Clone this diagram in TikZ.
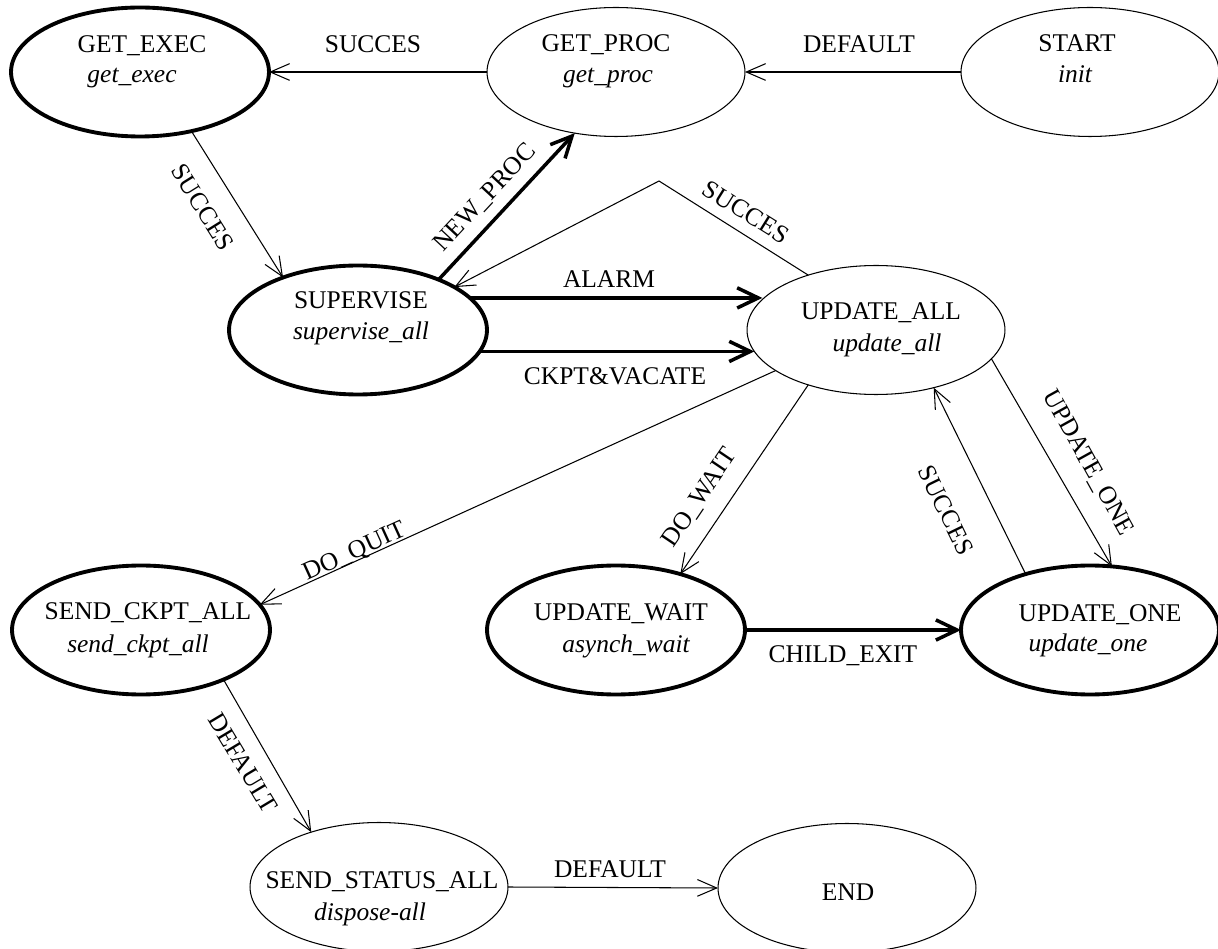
\documentclass[tikz,border=0pt]{standalone}
\usepackage{fontspec}
\setmainfont{Liberation Serif}
\usetikzlibrary{shapes.geometric,arrows.meta,calc}
\begin{document}
\begin{tikzpicture}[x=0.02cm,y=-0.02cm,
  state/.style={ellipse,draw,line width=0.6pt,minimum width=5.16cm,minimum height=2.58cm,inner sep=0pt,outer sep=0pt},
  bold state/.style={state,line width=2.2pt},
  txt/.style={inner sep=0pt,anchor=base,font=\fontsize{14.5}{17}\selectfont},
  fn/.style={inner sep=0pt,anchor=base,font=\fontsize{14.5}{17}\selectfont\itshape},
  elabel/.style={inner sep=0pt,font=\fontsize{14.5}{17}\selectfont},
  thin arrow/.style={line width=0.6pt,-{Straight Barb[length=11pt,width=9.5pt]}},
  thick arrow/.style={line width=2pt,-{Straight Barb[length=12pt,width=11.5pt]}},
]
\useasboundingbox (0,0) rectangle (1218,949);

% states
\node[bold state] (ge)  at (140,72)  {};
\node[state]      (gp)  at (616,72)  {};
\node[state]      (st)  at (1090,72) {};
\node[bold state] (sup) at (358,330) {};
\node[state]      (ua)  at (876,330) {};
\node[bold state] (sca) at (141,630) {};
\node[bold state] (uw)  at (616,630) {};
\node[bold state] (uo)  at (1090,630) {};
\node[state]      (ssa) at (379,887) {};
\node[state]      (end) at (847,888) {};

% state names and actions
\node[txt] (ge-a)  at ($(ge)+(2,-19)$)   {GET\_EXEC};
\node[fn]  (ge-b)  at ($(ge)+(-8,11)$)   {get\_exec};
\node[txt] (gp-a)  at ($(gp)+(-10,-20)$) {GET\_PROC};
\node[fn]  (gp-b)  at ($(gp)+(-8,11)$)   {get\_proc};
\node[txt] (st-a)  at ($(st)+(-13,-20)$) {START};
\node[fn]  (st-b)  at ($(st)+(-15,11)$)  {init};
\node[txt] (sup-a) at ($(sup)+(3,-21)$)  {SUPERVISE};
\node[fn]  (sup-b) at ($(sup)+(3,10)$)   {supervise\_all};
\node[txt] (ua-a)  at ($(ua)+(5,-10)$)   {UPDATE\_ALL};
\node[fn]  (ua-b)  at ($(ua)+(11,22)$)   {update\_all};
\node[txt] (sca-a) at ($(sca)+(7,-10)$)  {SEND\_CKPT\_ALL};
\node[fn]  (sca-b) at ($(sca)+(-3,22)$)  {send\_ckpt\_all};
\node[txt] (uw-a)  at ($(uw)+(5,-9)$)    {UPDATE\_WAIT};
\node[fn]  (uw-b)  at ($(uw)+(10,22)$)   {asynch\_wait};
\node[txt] (uo-a)  at ($(uo)+(10,-8)$)   {UPDATE\_ONE};
\node[fn]  (uo-b)  at ($(uo)+(-2,21)$)   {update\_one};
\node[txt] (ssa-a) at ($(ssa)+(3,1)$)    {SEND\_STATUS\_ALL};
\node[fn]  (ssa-b) at ($(ssa)+(-9,33)$)  {dispose-all};
\node[txt] (end-a) at ($(end)+(1,12)$)   {END};

% transitions
\draw[thin arrow]  (gp.west) -- (ge.east);
\draw[thin arrow]  (st.west) -- (gp.east);
\draw[thin arrow]  (ge.-49) -- (sup.145);
\draw[thick arrow] (sup.32) -- (gp.236);
\coordinate (apex) at (659,181);
\draw[thin arrow]  (ua.141) -- (apex) -- (sup.24);
\draw[thick arrow] (sup.16) -- (sup.16 -| ua.165);
\draw[thick arrow] (sup.-10) -- (sup.-10 -| ua.190);
\draw[thin arrow]  (ua.202) -- (sca.12);
\draw[thin arrow]  (ua.219) -- (uw.41);
\draw[thin arrow]  (ua.-14) -- (uo.71);
\draw[thin arrow]  (uo.139) -- (ua.-45);
\draw[thick arrow] (uw.east) -- (uo.west);
\draw[thin arrow]  (sca.-31) -- (ssa.141);
\draw[thin arrow]  (ssa.east) -- (end.west);

% transition labels
\node[elabel,anchor=base] (l1)  at (373,53)  {SUCCES};
\node[elabel,anchor=base] (l2)  at (859,53)  {DEFAULT};
\node[elabel,rotate=-58]  (l3)  at (203,207) {SUCCES};
\node[elabel,rotate=47]   (l4)  at (485,198) {NEW\_PROC};
\node[elabel,rotate=-32]  (l5)  at (746,212) {SUCCES};
\node[elabel,anchor=base] (l6)  at (609,288) {ALARM};
\node[elabel,anchor=base] (l7)  at (615,385) {CKPT\&VACATE};
\node[elabel,rotate=24.5] (l8)  at (355,552) {DO\_QUIT};
\node[elabel,rotate=56]   (l9)  at (700,498) {DO\_WAIT};
\node[elabel,rotate=-64]  (l10) at (946,510) {SUCCES};
\node[elabel,rotate=-61]  (l11) at (1088,463) {UPDATE\_ONE};
\node[elabel,anchor=base] (l12) at (843,663) {CHILD\_EXIT};
\node[elabel,rotate=-59]  (l13) at (243,763) {DEFAULT};
\node[elabel,anchor=base] (l14) at (610,877) {DEFAULT};
\end{tikzpicture}
\end{document}
